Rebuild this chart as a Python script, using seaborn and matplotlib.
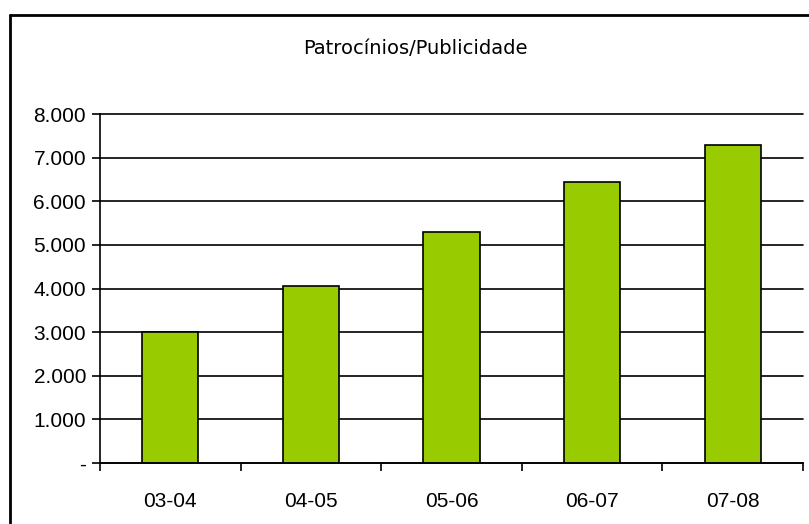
#bar chart - Patrocinios/Publicidade

import numpy as np
import pandas as pd
import seaborn as sns
import matplotlib.pyplot as plt
from matplotlib.lines import Line2D
from matplotlib.ticker import FuncFormatter, FixedLocator

#data
seasons = ['03-04', '04-05', '05-06', '06-07', '07-08']
valores = [3000, 4060, 5300, 6450, 7280]
yticks = [0, 1000, 2000, 3000, 4000, 5000, 6000, 7000, 8000]

data = pd.DataFrame({'Epoca': seasons, 'Valor': valores})

sns.set_style('white')
plt.rcParams['font.family'] = ['Liberation Sans', 'DejaVu Sans']
plt.rcParams['text.color'] = 'black'
plt.rcParams['xtick.color'] = 'black'
plt.rcParams['ytick.color'] = 'black'

W, H = 809, 524
fig = plt.figure(figsize=(W / 100, H / 100), dpi=100)
ax = fig.add_axes([100 / W, (H - 463) / H, 703 / W, (463 - 114) / H])

sns.barplot(data=data, x='Epoca', y='Valor', color='#99CC00', width=0.4,
            edgecolor='black', linewidth=1.2, saturation=1, ax=ax)

ax.set_xlim(-0.5, len(seasons) - 0.5)
ax.set_ylim(0, 8000)
ax.set_yticks(yticks)
ax.yaxis.set_major_formatter(FuncFormatter(
    lambda v, p: '-' if v == 0 else f'{int(v):,}'.replace(',', '.')))
ax.grid(axis='y', color='black', lw=1.2)
ax.set_axisbelow(True)
for gl in ax.get_ygridlines():
    gl.set_clip_on(False)
ax.set_xlabel('')
ax.set_ylabel('')

#ticks between categories on the x axis
ax.xaxis.set_minor_locator(FixedLocator(np.arange(-0.5, len(seasons), 1)))
ax.tick_params(axis='x', which='major', length=0, pad=21, labelsize=15)
ax.tick_params(axis='x', which='minor', length=6, width=1.2, color='black',
               direction='out', bottom=True)
ax.tick_params(axis='y', length=6, width=1.2, color='black', direction='out',
               left=True, labelsize=15, pad=4)

for s in ['top', 'right']:
    ax.spines[s].set_visible(False)
for s in ['left', 'bottom']:
    ax.spines[s].set_color('black')
    ax.spines[s].set_linewidth(1.2)

fig.text(415 / W, 1 - 49 / H, 'Patrocínios/Publicidade', ha='center',
         va='center', fontsize=14, color='black', family=['DejaVu Sans'])

#outer chart frame (cut off on the right and bottom)
fig.add_artist(Line2D([10 / W, 10 / W], [0, 1 - 15 / H], color='black',
                      lw=2, transform=fig.transFigure))
fig.add_artist(Line2D([10 / W, 1], [1 - 15 / H, 1 - 15 / H], color='black',
                      lw=2, transform=fig.transFigure))

plt.savefig('out.png', dpi=100)
